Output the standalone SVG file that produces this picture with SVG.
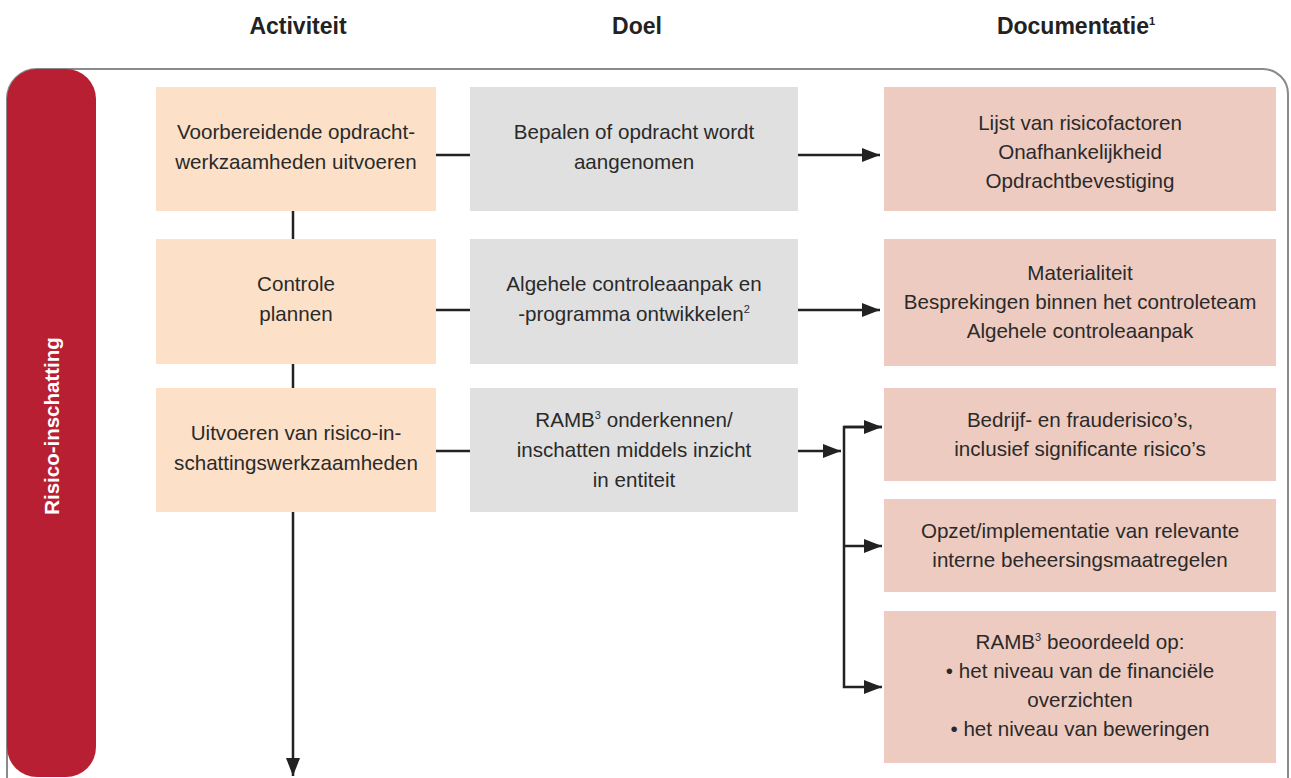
<svg xmlns="http://www.w3.org/2000/svg" width="1291" height="778" viewBox="0 0 1291 778">
  <style>
    .hdr { font-family: "Liberation Sans", Arial, sans-serif; font-weight: bold; font-size: 23px; fill: #222; text-anchor: middle; }
    .txt { font-family: "Liberation Sans", Arial, sans-serif; font-size: 20.6px; fill: #2a2a2a; text-anchor: middle; }
    .sup { font-size: 11px; }
    .act { fill: #FCE0C8; }
    .goal { fill: #E0E0E0; }
    .doc { fill: #EECBC0; }
    .line { fill: none; stroke: #222; stroke-width: 2.5; }
  </style>
  <defs>
    <marker id="arrow" viewBox="0 0 18 14" refX="18" refY="7" markerWidth="18" markerHeight="14" markerUnits="userSpaceOnUse" orient="auto">
      <path d="M0,0 L18,7 L0,14 Z" fill="#222"/>
    </marker>
  </defs>

  <!-- column headers -->
  <g id="headers">
    <text class="hdr" x="298" y="34">Activiteit</text>
    <text class="hdr" x="637" y="34">Doel</text>
    <text class="hdr" x="1076" y="34">Documentatie<tspan class="sup" dy="-9">1</tspan></text>
  </g>

  <!-- phase frame -->
  <g id="frame">
    <path d="M37,69 H1263 A25,25 0 0 1 1288,94 V790 H7 V99 A30,30 0 0 1 37,69 Z" fill="#fff" stroke="#8a8a8a" stroke-width="2"/>
  </g>
  <g id="phase">
    <rect x="7" y="69" width="89" height="708" rx="30" ry="30" fill="#B91F33"/>
    <text transform="translate(59,426) rotate(-90)" font-family="Liberation Sans, Arial, sans-serif" font-weight="bold" font-size="20.5" fill="#fff" text-anchor="middle">Risico-inschatting</text>
  </g>

  <!-- connectors -->
  <g id="connectors">
    <line class="line" x1="293" y1="211" x2="293" y2="239"/>
    <line class="line" x1="293" y1="364" x2="293" y2="388"/>
    <line class="line" x1="293" y1="512" x2="293" y2="776" marker-end="url(#arrow)"/>
    <line class="line" x1="436" y1="155" x2="470" y2="155"/>
    <line class="line" x1="436" y1="310" x2="470" y2="310"/>
    <line class="line" x1="436" y1="451" x2="470" y2="451"/>
    <line class="line" x1="798" y1="155" x2="880" y2="155" marker-end="url(#arrow)"/>
    <line class="line" x1="798" y1="310" x2="880" y2="310" marker-end="url(#arrow)"/>
    <line class="line" x1="798" y1="451" x2="841" y2="451" marker-end="url(#arrow)"/>
    <path class="line" d="M882,427 H844 V687 H882" marker-end="url(#arrow)"/>
    <line class="line" x1="844" y1="427" x2="882" y2="427" marker-end="url(#arrow)"/>
    <line class="line" x1="844" y1="546" x2="882" y2="546" marker-end="url(#arrow)"/>
  </g>

  <!-- activity column -->
  <g id="act1">
    <rect class="act" x="156" y="87" width="280" height="124"/>
    <text class="txt" x="296" y="139">Voorbereidende opdracht-</text>
    <text class="txt" x="296" y="169">werkzaamheden uitvoeren</text>
  </g>
  <g id="act2">
    <rect class="act" x="156" y="239" width="280" height="125"/>
    <text class="txt" x="296" y="291">Controle</text>
    <text class="txt" x="296" y="321">plannen</text>
  </g>
  <g id="act3">
    <rect class="act" x="156" y="388" width="280" height="124"/>
    <text class="txt" x="296" y="440">Uitvoeren van risico-in-</text>
    <text class="txt" x="296" y="470">schattingswerkzaamheden</text>
  </g>

  <!-- goal column -->
  <g id="goal1">
    <rect class="goal" x="470" y="87" width="328" height="124"/>
    <text class="txt" x="634" y="139">Bepalen of opdracht wordt</text>
    <text class="txt" x="634" y="169">aangenomen</text>
  </g>
  <g id="goal2">
    <rect class="goal" x="470" y="239" width="328" height="125"/>
    <text class="txt" x="634" y="291">Algehele controleaanpak en</text>
    <text class="txt" x="634" y="321">-programma ontwikkelen<tspan class="sup" dy="-8">2</tspan></text>
  </g>
  <g id="goal3">
    <rect class="goal" x="470" y="388" width="328" height="124"/>
    <text class="txt" x="634" y="427">RAMB<tspan class="sup" dy="-8">3</tspan><tspan dy="8"> onderkennen/</tspan></text>
    <text class="txt" x="634" y="457">inschatten middels inzicht</text>
    <text class="txt" x="634" y="487">in entiteit</text>
  </g>

  <!-- documentation column -->
  <g id="doc1">
    <rect class="doc" x="884" y="87" width="392" height="124"/>
    <text class="txt" x="1080" y="130">Lijst van risicofactoren</text>
    <text class="txt" x="1080" y="159">Onafhankelijkheid</text>
    <text class="txt" x="1080" y="188">Opdrachtbevestiging</text>
  </g>
  <g id="doc2">
    <rect class="doc" x="884" y="239" width="392" height="127"/>
    <text class="txt" x="1080" y="280">Materialiteit</text>
    <text class="txt" x="1080" y="309">Besprekingen binnen het controleteam</text>
    <text class="txt" x="1080" y="338">Algehele controleaanpak</text>
  </g>
  <g id="doc3">
    <rect class="doc" x="884" y="388" width="392" height="93"/>
    <text class="txt" x="1080" y="427">Bedrijf- en frauderisico’s,</text>
    <text class="txt" x="1080" y="456">inclusief significante risico’s</text>
  </g>
  <g id="doc4">
    <rect class="doc" x="884" y="499" width="392" height="93"/>
    <text class="txt" x="1080" y="538">Opzet/implementatie van relevante</text>
    <text class="txt" x="1080" y="567">interne beheersingsmaatregelen</text>
  </g>
  <g id="doc5">
    <rect class="doc" x="884" y="611" width="392" height="152"/>
    <text class="txt" x="1080" y="649">RAMB<tspan class="sup" dy="-8">3</tspan><tspan dy="8"> beoordeeld op:</tspan></text>
    <text class="txt" x="1080" y="678">• het niveau van de financiële</text>
    <text class="txt" x="1080" y="707">overzichten</text>
    <text class="txt" x="1080" y="736">• het niveau van beweringen</text>
  </g>
</svg>
